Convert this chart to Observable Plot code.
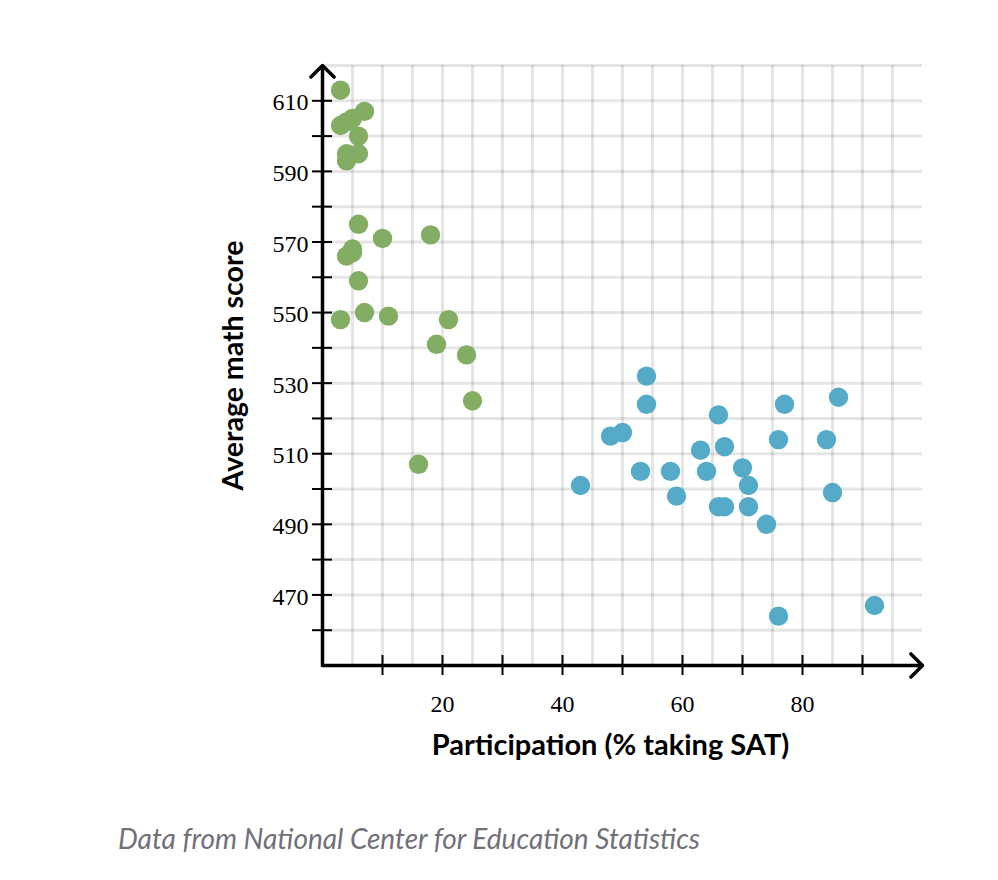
<!DOCTYPE html>
<html>
<head>
<meta charset="utf-8">
<script src="https://cdn.jsdelivr.net/npm/d3@7"></script>
<script src="https://cdn.jsdelivr.net/npm/@observablehq/plot@0.6"></script>
<style>
  html, body { margin: 0; padding: 0; background: #fff; }
  #chart svg { display: block; }
  #caption { font-family: Lato, sans-serif; font-style: italic; font-size: 28px; line-height: 34px; color: #707078; padding-left: 118px; margin-top: 31px; }
</style>
</head>
<body>
<div id="chart"></div>
<div id="caption">Data from National Center for Education Statistics</div>
<script>
// Low-participation states (green)
const greenX = [3, 3, 4, 5, 7, 6, 4, 6, 4, 6, 10, 18, 5, 4, 5, 6, 3, 7, 11, 21, 19, 24, 25, 16];
const greenY = [613, 603, 604, 605, 607, 600, 595, 595, 593, 575, 571, 572, 568, 566, 567, 559, 548, 550, 549, 548, 541, 538, 525, 507];
// High-participation states (blue)
const blueX = [43, 48, 50, 54, 54, 53, 58, 59, 63, 64, 66, 67, 66, 67, 70, 71, 71, 74, 77, 76, 86, 84, 85, 76, 92];
const blueY = [501, 515, 516, 532, 524, 505, 505, 498, 511, 505, 521, 512, 495, 495, 506, 501, 495, 490, 524, 514, 526, 514, 499, 464, 467];

const xDomain = [0, 100];
const yDomain = [450, 620];
const xTicks = [10, 20, 30, 40, 50, 60, 70, 80, 90];
const xTickLabels = [20, 40, 60, 80];
const yTicks = [460, 470, 480, 490, 500, 510, 520, 530, 540, 550, 560, 570, 580, 590, 600, 610];
const yTickLabels = [470, 490, 510, 530, 550, 570, 590, 610];
const xGrid = d3.range(5, 100, 5);
const yGrid = d3.range(460, 621, 10);

const xTitle = "Participation (% taking SAT)";
const yTitle = "Average math score";
const greenColor = "#84ad64";
const blueColor = "#55aac8";

const green = greenX.map((x, i) => ({x, y: greenY[i]}));
const blue = blueX.map((x, i) => ({x, y: blueY[i]}));

const serif = "Liberation Serif, serif";
const sans = "Lato, sans-serif";

const chart = Plot.plot({
  width: 998,
  height: 790,
  marginLeft: 322,
  marginRight: 76,
  marginTop: 65,
  marginBottom: 125,
  x: {domain: xDomain, axis: null},
  y: {domain: yDomain, axis: null},
  style: {background: "#fff"},
  marks: [
    Plot.ruleX(xGrid, {x: d => d, stroke: "#000", strokeOpacity: 0.1, strokeWidth: 3}),
    Plot.ruleY(yGrid, {y: d => d, stroke: "#000", strokeOpacity: 0.1, strokeWidth: 3}),
    Plot.ruleX(xTicks, {x: d => d, y1: yDomain[0], y2: yDomain[0], insetTop: -10, insetBottom: -10, stroke: "#000", strokeWidth: 2}),
    Plot.ruleY(yTicks, {y: d => d, x1: xDomain[0], x2: xDomain[0], insetLeft: -10, insetRight: -10, stroke: "#000", strokeWidth: 2}),
    Plot.arrow([0], {x1: xDomain[0], y1: yDomain[0], x2: xDomain[1], y2: yDomain[0], stroke: "#000", strokeWidth: 3.5, headAngle: 90, headLength: 7}),
    Plot.arrow([0], {x1: xDomain[0], y1: yDomain[0], x2: xDomain[0], y2: yDomain[1], stroke: "#000", strokeWidth: 3.5, headAngle: 90, headLength: 7}),
    Plot.text(xTickLabels, {x: d => d, text: d => String(d), frameAnchor: "bottom", dy: 39, lineAnchor: "middle", textAnchor: "middle", fontSize: 24, fontFamily: serif, fill: "#000"}),
    Plot.text(yTickLabels, {y: d => d, text: d => String(d), frameAnchor: "left", dx: -14, dy: 2, lineAnchor: "middle", textAnchor: "end", fontSize: 24, fontFamily: serif, fill: "#000"}),
    Plot.text([xTitle], {text: d => d, frameAnchor: "bottom", dx: -12, dy: 80, fontSize: 29, fontWeight: "bold", fontFamily: sans, fill: "#000", lineAnchor: "middle"}),
    Plot.text([yTitle], {text: d => d, frameAnchor: "left", dx: -89, rotate: -90, textAnchor: "middle", lineAnchor: "middle", fontSize: 28.5, fontWeight: "bold", fontFamily: sans, fill: "#000"}),
    Plot.dot(green, {x: "x", y: "y", r: 9.7, fill: greenColor}),
    Plot.dot(blue, {x: "x", y: "y", r: 9.7, fill: blueColor})
  ]
});
document.getElementById("chart").appendChild(chart);
</script>
</body>
</html>
